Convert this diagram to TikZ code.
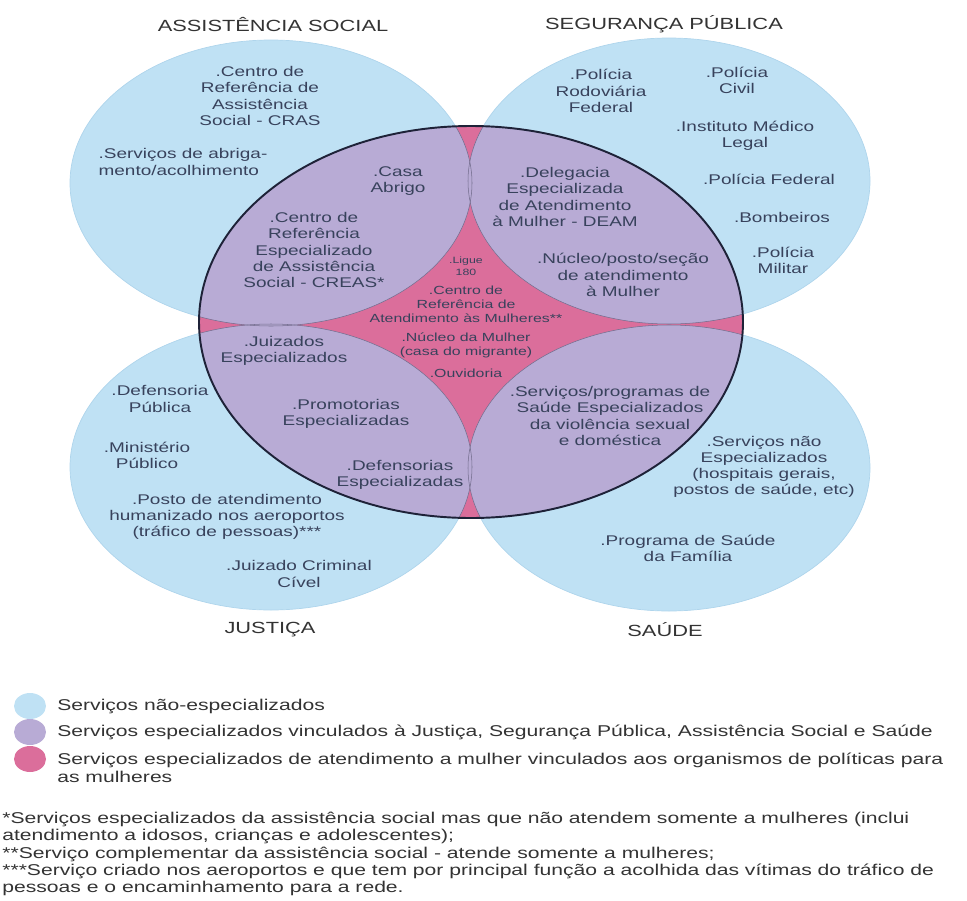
\documentclass[tikz,border=0pt]{standalone}
\usepackage{fontspec}
\setmainfont[FakeStretch=1.35]{Liberation Sans}

\definecolor{azul}{HTML}{BFE1F4}
\definecolor{azulborda}{HTML}{AFD5EC}
\definecolor{roxo}{HTML}{B8ABD5}
\definecolor{rosa}{HTML}{DB6E9B}
\definecolor{contorno}{HTML}{1E2238}
\definecolor{texto}{HTML}{38425C}
\definecolor{titulo}{HTML}{333333}

\tikzset{
  rotulo/.style={font=\fontsize{8}{9.2}\selectfont, text=texto, align=center, inner sep=0pt},
  miudo/.style={font=\fontsize{6.7}{7.9}\selectfont, text=texto, align=center, inner sep=0pt},
  area/.style={font=\fontsize{9.2}{11}\selectfont, text=titulo, inner sep=0pt},
  legenda/.style={font=\fontsize{8.9}{9.8}\selectfont, text=titulo, align=left, inner sep=0pt},
}

\begin{document}
\begin{tikzpicture}[x=0.02cm, y=-0.02cm]
    \useasboundingbox (0,0) rectangle (967,900);

    % circulos das quatro areas
    \foreach \cx/\cy in {271/183, 669/181, 271/467, 669/468}
      \filldraw[fill=azul, draw=azulborda, line width=0.4pt] (\cx,\cy) ellipse [x radius=201, y radius=143];

    % elipse central
    \fill[rosa] (471,322) ellipse [x radius=272, y radius=196];
    \begin{scope}
      \clip (471,322) ellipse [x radius=272, y radius=196];
      \foreach \cx/\cy in {271/183, 669/181, 271/467, 669/468}
        \fill[roxo] (\cx,\cy) ellipse [x radius=201, y radius=143];
      \foreach \cx/\cy in {271/183, 669/181, 271/467, 669/468}
        \draw[contorno!45!roxo, line width=0.3pt] (\cx,\cy) ellipse [x radius=201, y radius=143];
    \end{scope}
    \draw[contorno, line width=1.1pt] (471,322) ellipse [x radius=272, y radius=196];

    % titulos
    \node[area] (assist) at (273,25) {ASSISTÊNCIA SOCIAL};
    \node[area] (seg) at (664,24) {SEGURANÇA PÚBLICA};
    \node[area] (just) at (270,630) {JUSTIÇA};
    \node[area] (saude) at (665,630) {SAÚDE};

    % assistencia social
    \node[rotulo] (cras) at (260,96) {.Centro de\\Referência de\\Assistência\\Social - CRAS};
    \node[rotulo, align=left] (abrigamento) at (183,162) {.Serviços de abriga-\\mento/acolhimento};
    \node[rotulo] (casa) at (398,181) {.Casa\\Abrigo};
    \node[rotulo] (creas) at (314,250) {.Centro de\\Referência\\Especializado\\de Assistência\\Social - CREAS*};

    % seguranca publica
    \node[rotulo] (prf) at (601,91) {.Polícia\\Rodoviária\\Federal};
    \node[rotulo] (civil) at (737,80) {.Polícia\\Civil};
    \node[rotulo] (iml) at (745,136) {.Instituto Médico\\Legal};
    \node[rotulo] (pf) at (769,179) {.Polícia Federal};
    \node[rotulo] (bombeiros) at (782,217) {.Bombeiros};
    \node[rotulo] (pm) at (783,260) {.Polícia\\Militar};
    \node[rotulo] (deam) at (565,197) {.Delegacia\\Especializada\\de Atendimento\\à Mulher - DEAM};
    \node[rotulo] (nucleo) at (623,275) {.Núcleo/posto/seção\\de atendimento\\à Mulher};

    % centro
    \node[miudo, font=\fontsize{5.2}{6.8}\selectfont] (ligue) at (466,266) {.Ligue\\180};
    \node[miudo] (cram) at (466,304) {.Centro de\\Referência de\\Atendimento às Mulheres**};
    \node[miudo] (migrante) at (466,345) {.Núcleo da Mulher\\(casa do migrante)};
    \node[miudo] (ouvidoria) at (466,373) {.Ouvidoria};

    % justica
    \node[rotulo] (juizados) at (284,351) {.Juizados\\Especializados};
    \node[rotulo] (defpub) at (160,399) {.Defensoria\\Pública};
    \node[rotulo] (promot) at (346,414) {.Promotorias\\Especializadas};
    \node[rotulo] (mp) at (147,455) {.Ministério\\Público};
    \node[rotulo] (defesp) at (400,475) {.Defensorias\\Especializadas};
    \node[rotulo] (posto) at (227,517) {.Posto de atendimento\\humanizado nos aeroportos\\(tráfico de pessoas)***};
    \node[rotulo] (jecrim) at (299,574) {.Juizado Criminal\\Cível};

    % saude
    \node[rotulo] (violencia) at (610,416) {.Serviços/programas de\\Saúde Especializados\\da violência sexual\\e doméstica};
    \node[rotulo] (naoesp) at (764,467) {.Serviços não\\Especializados\\(hospitais gerais,\\postos de saúde, etc)};
    \node[rotulo] (psf) at (688,548) {.Programa de Saúde\\da Família};

    % legenda
    \fill[azul] (30,706) ellipse [x radius=16, y radius=13];
    \fill[roxo] (30,732) ellipse [x radius=16, y radius=13];
    \fill[rosa] (30,759) ellipse [x radius=16, y radius=13];
    \node[legenda, anchor=west] (leg1) at (57,706) {Serviços não-especializados};
    \node[legenda, anchor=west] (leg2) at (57,732) {Serviços especializados vinculados à Justiça, Segurança Pública, Assistência Social e Saúde};
    \node[legenda, anchor=north west] (leg3) at (57,753) {Serviços especializados de atendimento a mulher vinculados aos organismos de políticas para\\as mulheres};

    % notas
    \node[legenda, anchor=north west] (notas) at (2,812) {*Serviços especializados da assistência social mas que não atendem somente a mulheres (inclui\\atendimento a idosos, crianças e adolescentes);\\**Serviço complementar da assistência social - atende somente a mulheres;\\***Serviço criado nos aeroportos e que tem por principal função a acolhida das vítimas do tráfico de\\pessoas e o encaminhamento para a rede.};
\end{tikzpicture}
\end{document}
